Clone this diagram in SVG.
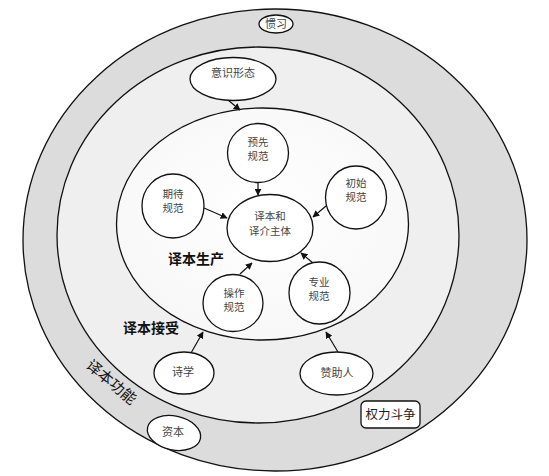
<svg xmlns="http://www.w3.org/2000/svg" width="549" height="476" viewBox="0 0 549 476">
<style>
.ring{stroke:#111;stroke-width:1.3}
.node{fill:#fff;stroke:#111;stroke-width:1.3}
.t{font-family:"Noto Sans CJK SC","Noto Sans",sans-serif;font-size:11px;fill:#444;text-anchor:middle}
.t2{font-family:"Noto Sans CJK SC","Noto Sans",sans-serif;font-size:10.5px;fill:#444;text-anchor:middle}
.lb{font-family:"Noto Sans CJK SC","Noto Sans",sans-serif;font-size:14px;font-weight:bold;fill:#111;text-anchor:middle}
.c{stroke:#111;stroke-width:1.2;fill:none;marker-end:url(#ah)}
</style>
<defs>
<marker id="ah" viewBox="0 0 10 10" refX="9" refY="5" markerWidth="7" markerHeight="7" orient="auto" markerUnits="userSpaceOnUse">
<path d="M0,0 L10,5 L0,10 z" fill="#111"/>
</marker>
<radialGradient id="g1" cx="0.5" cy="0.45" r="0.6">
<stop offset="0" stop-color="#ffffff"/>
<stop offset="1" stop-color="#f7f7f7"/>
</radialGradient>
</defs>
<rect width="549" height="476" fill="#fff"/>
<g id="rings">
<ellipse id="outer" class="ring" cx="275" cy="240" rx="252" ry="231" fill="#dcdcdc"/>
<ellipse id="middle" class="ring" cx="258" cy="235" rx="201" ry="188" fill="#efefef"/>
<ellipse id="inner" class="ring" cx="262.5" cy="224" rx="146" ry="116" fill="url(#g1)"/>
</g>
<g id="labels">
<text class="lb" x="196" y="264">译本生产</text>
<text class="lb" x="151" y="333">译本接受</text>
<text x="0" y="0" transform="translate(108,386) rotate(40)" style="font-family:'Noto Sans CJK SC','Noto Sans',sans-serif;font-size:15px;fill:#111;text-anchor:middle">译本功能</text>
</g>
<g id="connectors">
<line class="c" x1="228" y1="100" x2="240" y2="110"/>
<line class="c" x1="258" y1="183" x2="258" y2="195"/>
<line class="c" x1="204" y1="208" x2="227" y2="218"/>
<line class="c" x1="326" y1="206" x2="313" y2="217"/>
<line class="c" x1="240" y1="274" x2="252" y2="263"/>
<line class="c" x1="313" y1="263" x2="301" y2="253"/>
<line class="c" x1="191" y1="353" x2="203" y2="332"/>
<line class="c" x1="338" y1="352" x2="326" y2="332"/>
</g>
<g id="n-guanxi">
<ellipse class="node" cx="276" cy="24" rx="17" ry="9"/>
<text class="t" x="276" y="28" fill="#333">惯习</text>
</g>
<g id="n-yishi">
<ellipse class="node" cx="233" cy="79" rx="43" ry="21.5"/>
<text class="t" x="233" y="77">意识形态</text>
</g>
<g id="n-yuxian">
<ellipse class="node" cx="258" cy="153" rx="30.5" ry="29.5"/>
<text class="t2" x="258" y="146">预先</text>
<text class="t2" x="258" y="160">规范</text>
</g>
<g id="n-center">
<ellipse class="node" cx="270" cy="228" rx="43" ry="33.5"/>
<text class="t2" x="270" y="220">译本和</text>
<text class="t2" x="270" y="235">译介主体</text>
</g>
<g id="n-qidai">
<ellipse class="node" cx="173" cy="206" rx="31" ry="32"/>
<text class="t2" x="173" y="198">期待</text>
<text class="t2" x="173" y="212">规范</text>
</g>
<g id="n-chushi">
<ellipse class="node" cx="356" cy="197.5" rx="30.5" ry="31.5"/>
<text class="t2" x="356" y="187">初始</text>
<text class="t2" x="356" y="201">规范</text>
</g>
<g id="n-caozuo">
<ellipse class="node" cx="233" cy="303" rx="30" ry="28.5"/>
<text class="t2" x="234" y="297">操作</text>
<text class="t2" x="234" y="311">规范</text>
</g>
<g id="n-zhuanye">
<ellipse class="node" cx="319.5" cy="293" rx="30.5" ry="31"/>
<text class="t2" x="319" y="286">专业</text>
<text class="t2" x="319" y="300">规范</text>
</g>
<g id="n-shixue">
<ellipse class="node" cx="184" cy="373" rx="30" ry="21"/>
<text class="t" x="183" y="376">诗学</text>
</g>
<g id="n-zanzhu">
<ellipse class="node" cx="336.5" cy="373.5" rx="36.5" ry="21.5"/>
<text class="t" x="337" y="377">赞助人</text>
</g>
<g id="n-ziben">
<ellipse class="node" cx="174" cy="433" rx="27" ry="17" transform="rotate(12 174 433)"/>
<text class="t" x="173" y="436">资本</text>
</g>
<g id="n-quanli">
<rect class="node" x="361" y="401" width="59" height="27" rx="5"/>
<text x="390.5" y="419" style="font-family:'Noto Sans CJK SC','Noto Sans',sans-serif;font-size:12.5px;fill:#222;text-anchor:middle">权力斗争</text>
</g>
</svg>
